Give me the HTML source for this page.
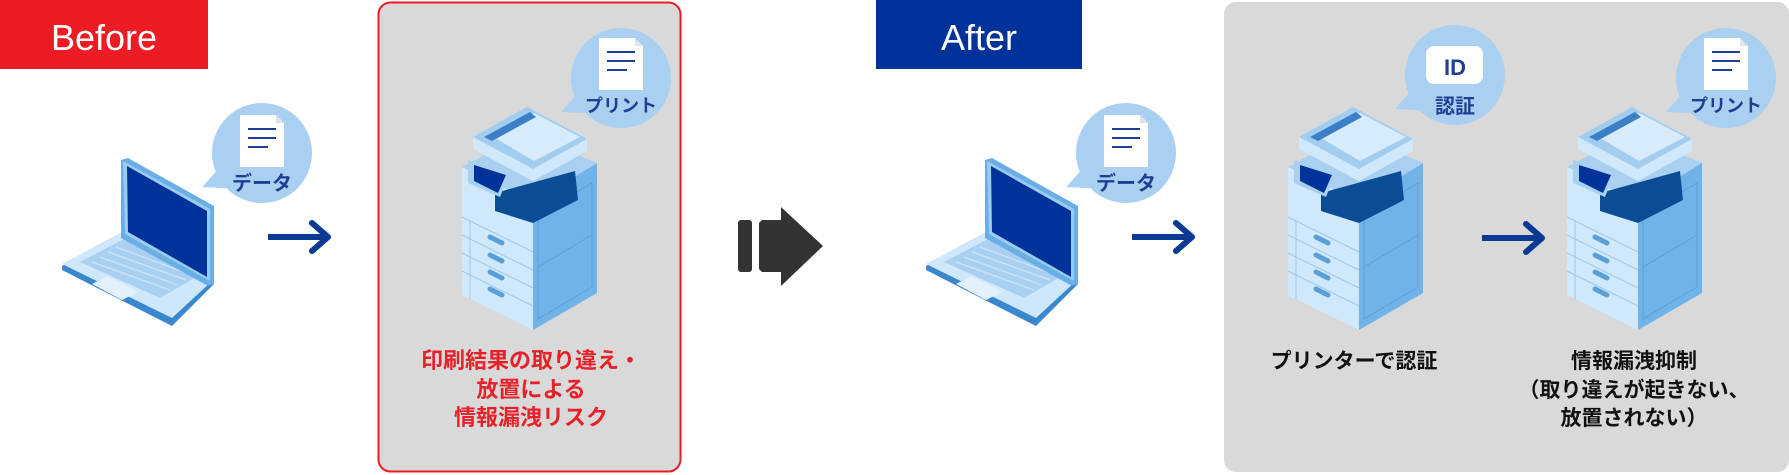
<!DOCTYPE html>
<html><head><meta charset="utf-8"><style>
html,body{margin:0;padding:0;background:#fff;}
svg{display:block;}
text{font-family:"Liberation Sans","Noto Sans CJK JP",sans-serif;font-weight:bold;}
text.lbl{font-weight:normal;}
</style></head><body>
<svg width="1789" height="475" viewBox="0 0 1789 475" xmlns="http://www.w3.org/2000/svg">
<defs>
  <g id="laptop">
    <polygon points="62,266 122,234 214,284 172,326 62,270" fill="#3a86cf"/>
    <polygon points="62,264 122,232 212,281 172,318" fill="#cfe7fb"/>
    <polygon points="80,262 126,238 196,277 160,298" fill="#a9d0f0"/>
    <g stroke="#cfe7fb" stroke-width="1.5" opacity="0.8">
      <line x1="92" y1="262" x2="170" y2="290"/>
      <line x1="100" y1="257" x2="178" y2="285"/>
      <line x1="108" y1="252" x2="186" y2="280"/>
      <line x1="116" y1="247" x2="192" y2="275"/>
    </g>
    <polygon points="92,284 108,276 138,292 122,300" fill="#e3f1fd"/>
    <polygon points="121,160 128,158 214,206 214,284 208,286 121,238" fill="#6aaee6"/>
    <polygon points="123,161 210,209 210,281 125,234" fill="#9ccbf0"/>
    <polygon points="127,166 207,211 207,277 128,232" fill="#003399"/>
  </g>
  <g id="printer">
    <polygon points="0,190 71,225 71,97 0,62" fill="#cfe8fb"/>
    <polygon points="71,97 135,58 135,188 71,225" fill="#6fb3e8"/>
    <polygon points="76,110 130,78 130,182 76,214" fill="none" stroke="#5aa0d8" stroke-width="1"/>
    <line x1="76" y1="162" x2="130" y2="130" stroke="#5aa0d8"/>
    <polygon points="0,62 64,28 135,58 71,97" fill="#a9d0f0"/>
    <polygon points="33,88 113,66 116,95 71,118 33,106" fill="#0a4d94"/>
    <polygon points="11,32 65,2 125,34 125,46 71,76 11,44" fill="#b9dcf7"/>
    <polygon points="11,32 65,2 125,34 71,64" fill="#a3cdef"/>
    <polygon points="11,44 71,76 125,46 125,34 71,64 11,32" fill="#cfe8fb"/>
    <polygon points="28,30 72,8 118,32 72,56" fill="#d6ebfc"/>
    <polygon points="22,32 68,7 74,12 30,36" fill="#3b7fc7"/>
    <polygon points="6,55 48,67 38,92 6,78" fill="#a9d0f0"/>
    <polygon points="12,60 44,70 36,88 12,76" fill="#003399"/>
    <g stroke="#9fc8ea" stroke-width="1">
      <line x1="0" y1="112" x2="71" y2="147"/>
      <line x1="0" y1="130" x2="71" y2="165"/>
      <line x1="0" y1="148" x2="71" y2="183"/>
      <line x1="0" y1="166" x2="71" y2="201"/>
      <line x1="8" y1="116" x2="8" y2="194"/>
    </g>
    <g stroke="#5aa0d8" stroke-width="5" stroke-linecap="round">
      <line x1="28" y1="132" x2="40" y2="138"/>
      <line x1="28" y1="150" x2="40" y2="156"/>
      <line x1="28" y1="167" x2="40" y2="173"/>
      <line x1="28" y1="184" x2="40" y2="190"/>
    </g>
  </g>
  <g id="bubble">
    <circle cx="0" cy="0" r="50" fill="#a9d0f0"/>
    <polygon points="-60,34 -40,12 -20,36" fill="#a9d0f0"/>
  </g>
  <g id="doc">
    <polygon points="-22,-26 14,-26 22,-18 22,26 -22,26" fill="#fff"/>
    <polygon points="14,-26 22,-18 14,-18" fill="#dde3ea"/>
    <g stroke="#1d3f94" stroke-width="2">
      <line x1="-14" y1="-12" x2="14" y2="-12"/>
      <line x1="-14" y1="-3" x2="14" y2="-3"/>
      <line x1="-14" y1="6" x2="6" y2="6"/>
    </g>
  </g>
  <g id="arr">
    <line x1="0" y1="0" x2="58" y2="0" stroke="#0a3a94" stroke-width="6"/>
    <polyline points="44,-14 60,0 44,14" fill="none" stroke="#0a3a94" stroke-width="6" stroke-linecap="round" stroke-linejoin="round"/>
  </g>
</defs>

<rect x="0" y="0" width="208" height="69" fill="#ed1c24"/>
<text class="lbl" x="104" y="50" font-size="36" fill="#fff" text-anchor="middle">Before</text>

<rect x="378.5" y="2.5" width="302" height="469" rx="12" fill="#d9d9d9" stroke="#ed1c24" stroke-width="2"/>

<rect x="876" y="0" width="206" height="69" fill="#003399"/>
<text class="lbl" x="979" y="50" font-size="36" fill="#fff" text-anchor="middle">After</text>

<rect x="1224" y="2" width="565" height="470" rx="12" fill="#d9d9d9"/>

<use href="#laptop"/>
<use href="#bubble" x="262" y="153"/>
<use href="#doc" x="262" y="141"/>
<text x="262" y="190" font-size="20" fill="#1d3f94" text-anchor="middle">データ</text>
<use href="#arr" x="268" y="237"/>

<use href="#printer" x="462" y="105"/>
<use href="#bubble" x="621" y="78"/>
<use href="#doc" x="621" y="64"/>
<text x="621" y="112" font-size="18" fill="#1d3f94" text-anchor="middle">プリント</text>
<text x="531" y="368" font-size="22" fill="#e8202a" text-anchor="middle">印刷結果の取り違え・</text>
<text x="531" y="397" font-size="22" fill="#e8202a" text-anchor="middle">放置による</text>
<text x="531" y="425" font-size="22" fill="#e8202a" text-anchor="middle">情報漏洩リスク</text>

<rect x="738" y="220" width="14" height="52" rx="3" fill="#333"/>
<polygon points="762,220 781,220 781,207 823,246 781,286 781,272 762,272 759,269 759,223" fill="#333"/>

<use href="#laptop" x="864"/>
<use href="#bubble" x="1126" y="153"/>
<use href="#doc" x="1126" y="141"/>
<text x="1126" y="190" font-size="20" fill="#1d3f94" text-anchor="middle">データ</text>
<use href="#arr" x="1132" y="237"/>

<use href="#printer" x="1288" y="105"/>
<use href="#bubble" x="1455" y="75"/>
<rect x="1426" y="46" width="57" height="38" rx="8" fill="#fff"/>
<text x="1455" y="75" font-size="22" fill="#1d3f94" text-anchor="middle">ID</text>
<text x="1455" y="113" font-size="20" fill="#1d3f94" text-anchor="middle">認証</text>
<text x="1354" y="368" font-size="21" fill="#111" text-anchor="middle">プリンターで認証</text>

<use href="#arr" x="1482" y="238"/>

<use href="#printer" x="1567" y="105"/>
<use href="#bubble" x="1726" y="78"/>
<use href="#doc" x="1726" y="64"/>
<text x="1726" y="112" font-size="18" fill="#1d3f94" text-anchor="middle">プリント</text>
<text x="1634" y="368" font-size="21" fill="#111" text-anchor="middle">情報漏洩抑制</text>
<text x="1634" y="397" font-size="21" fill="#111" text-anchor="middle">（取り違えが起きない、</text>
<text x="1634" y="425" font-size="21" fill="#111" text-anchor="middle">放置されない）</text>
</svg>
</body></html>
